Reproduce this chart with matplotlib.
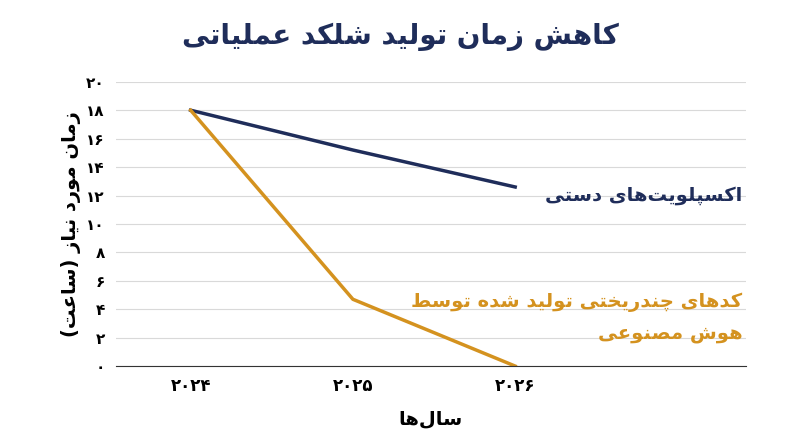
import matplotlib
matplotlib.use("Agg")
import matplotlib.pyplot as plt

F = {
 'ا': (0xFE8D, 0xFE8E, None, None), 'آ': (0xFE81, 0xFE82, None, None),
 'ب': (0xFE8F, 0xFE90, 0xFE91, 0xFE92), 'پ': (0xFB56, 0xFB57, 0xFB58, 0xFB59),
 'ت': (0xFE95, 0xFE96, 0xFE97, 0xFE98), 'ث': (0xFE99, 0xFE9A, 0xFE9B, 0xFE9C),
 'ج': (0xFE9D, 0xFE9E, 0xFE9F, 0xFEA0), 'چ': (0xFB7A, 0xFB7B, 0xFB7C, 0xFB7D),
 'ح': (0xFEA1, 0xFEA2, 0xFEA3, 0xFEA4), 'خ': (0xFEA5, 0xFEA6, 0xFEA7, 0xFEA8),
 'د': (0xFEA9, 0xFEAA, None, None), 'ذ': (0xFEAB, 0xFEAC, None, None),
 'ر': (0xFEAD, 0xFEAE, None, None), 'ز': (0xFEAF, 0xFEB0, None, None),
 'ژ': (0xFB8A, 0xFB8B, None, None),
 'س': (0xFEB1, 0xFEB2, 0xFEB3, 0xFEB4), 'ش': (0xFEB5, 0xFEB6, 0xFEB7, 0xFEB8),
 'ص': (0xFEB9, 0xFEBA, 0xFEBB, 0xFEBC), 'ض': (0xFEBD, 0xFEBE, 0xFEBF, 0xFEC0),
 'ط': (0xFEC1, 0xFEC2, 0xFEC3, 0xFEC4), 'ظ': (0xFEC5, 0xFEC6, 0xFEC7, 0xFEC8),
 'ع': (0xFEC9, 0xFECA, 0xFECB, 0xFECC), 'غ': (0xFECD, 0xFECE, 0xFECF, 0xFED0),
 'ف': (0xFED1, 0xFED2, 0xFED3, 0xFED4), 'ق': (0xFED5, 0xFED6, 0xFED7, 0xFED8),
 'ک': (0xFB8E, 0xFB8F, 0xFB90, 0xFB91), 'گ': (0xFB92, 0xFB93, 0xFB94, 0xFB95),
 'ل': (0xFEDD, 0xFEDE, 0xFEDF, 0xFEE0), 'م': (0xFEE1, 0xFEE2, 0xFEE3, 0xFEE4),
 'ن': (0xFEE5, 0xFEE6, 0xFEE7, 0xFEE8), 'و': (0xFEED, 0xFEEE, None, None),
 'ه': (0xFEE9, 0xFEEA, 0xFEEB, 0xFEEC), 'ی': (0xFBFC, 0xFBFD, 0xFBFE, 0xFBFF),
}

def shape(s):
    out = []
    n = len(s)
    for i, c in enumerate(s):
        if c not in F:
            if c != '\u200c':
                out.append(c)
            continue
        prev = s[i-1] if i > 0 else None
        nxt = s[i+1] if i < n-1 else None
        jp = prev in F and F[prev][2] is not None
        jn = nxt in F and F[c][2] is not None
        iso, fin, ini, med = F[c]
        if jp and jn:
            g = med
        elif jp:
            g = fin
        elif jn:
            g = ini
        else:
            g = iso
        out.append(chr(g))
    vis = "".join(out)[::-1]
    return vis.translate(str.maketrans("()", ")("))

years = ["۲۰۲۴", "۲۰۲۵", "۲۰۲۶"]
manual = [18, 15.2, 12.6]
ai = [18, 4.7, 0]
yticks = list(range(0, 21, 2))
fa = "۰۱۲۳۴۵۶۷۸۹"
ylabels = ["".join(fa[int(c)] for c in str(v)) for v in yticks]

navy = "#1f2d5a"
orange = "#d4921f"

fig = plt.figure(figsize=(8, 4.47), dpi=100)
ax = fig.add_axes([0.145, 0.181, 0.787, 0.636])
x = list(range(len(years)))
ax.plot(x, manual, color=navy, lw=2.5)
ax.plot(x, ai, color=orange, lw=2.5)
ax.set_xlim(-0.46, 3.42)
ax.set_ylim(0, 20)
ax.set_yticks(yticks)
ax.set_yticklabels(ylabels, fontsize=11, fontweight="bold")
ax.set_xticks(x)
ax.set_xticklabels(years, fontsize=12, fontweight="bold")
ax.grid(axis="y", color="#d9d9d9", lw=0.8)
for s in ["top", "right", "left"]:
    ax.spines[s].set_visible(False)
ax.spines["bottom"].set_color("#333333")
ax.tick_params(length=0, pad=8)
ax.text(3.4, 12.0, shape("اکسپلویت‌های دستی"), color=navy, fontsize=14, fontweight="bold", ha="right", va="center")
ax.text(3.4, 4.5, shape("کدهای چندریختی تولید شده توسط"), color=orange, fontsize=14, fontweight="bold", ha="right", va="center")
ax.text(3.4, 2.3, shape("هوش مصنوعی"), color=orange, fontsize=14, fontweight="bold", ha="right", va="center")
ax.set_xlabel(shape("سال‌ها"), fontsize=14, fontweight="bold", labelpad=10)
ax.set_ylabel(shape("زمان مورد نیاز (ساعت)"), fontsize=14, fontweight="bold")
fig.suptitle(shape("کاهش زمان تولید شلکد عملیاتی"), fontsize=20, fontweight="bold", color=navy, y=0.95)
fig.savefig("out.png")
